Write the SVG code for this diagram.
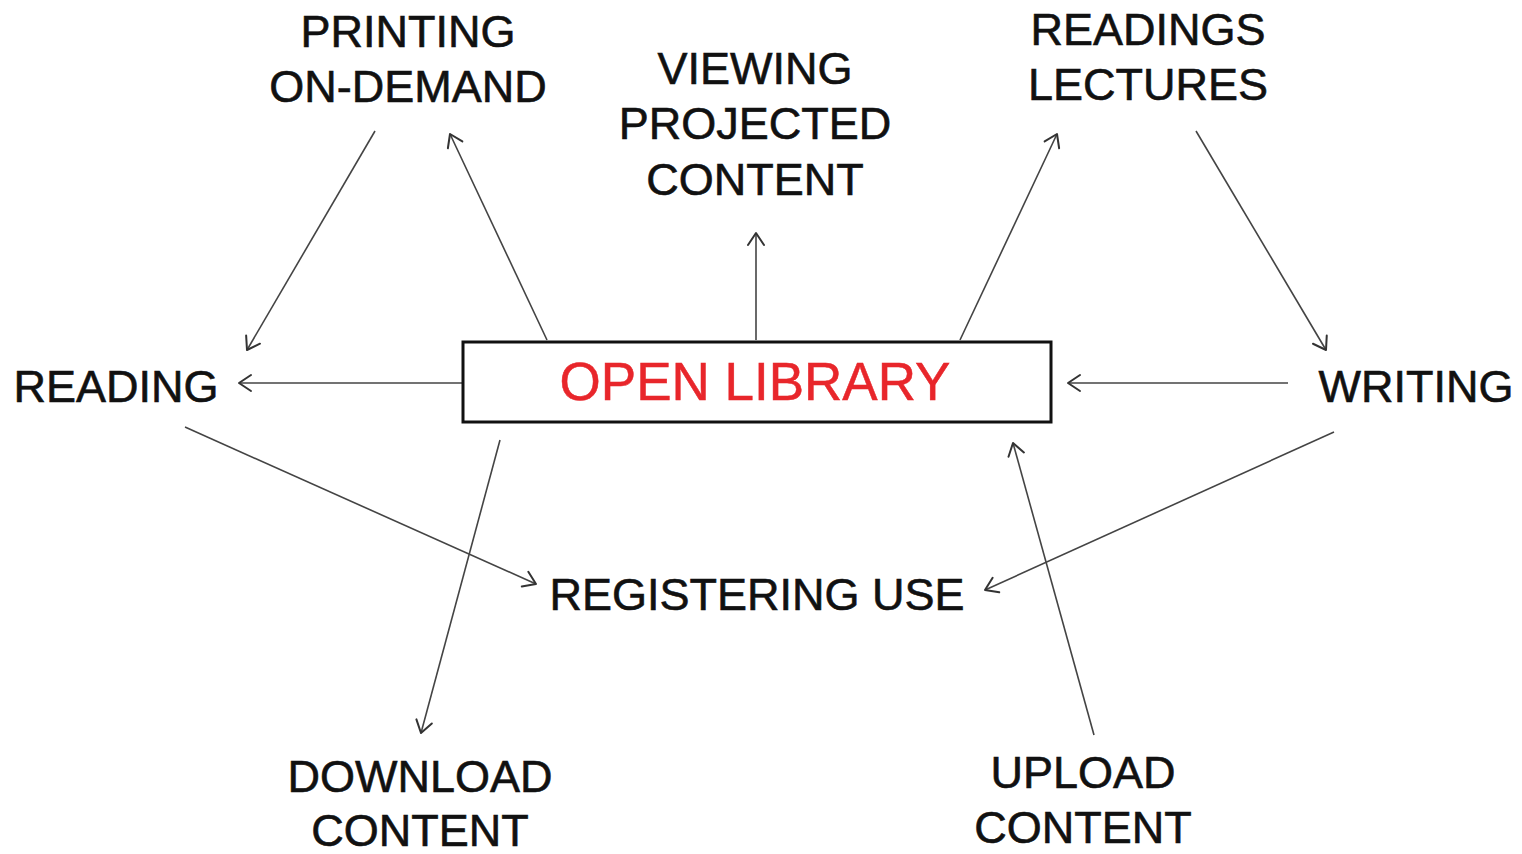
<svg xmlns="http://www.w3.org/2000/svg" width="1522" height="854" viewBox="0 0 1522 854">
<style>
.lbl{font-family:"Liberation Sans",Arial,sans-serif;font-size:45px;fill:#111;stroke:#111;stroke-width:0.6;text-anchor:middle}
.c{fill:none;stroke:#444;stroke-width:1.6;marker-end:url(#ah)}
</style>
<defs>
<marker id="ah" markerUnits="userSpaceOnUse" markerWidth="30" markerHeight="30" refX="15" refY="15" orient="auto">
<path d="M3,7 L15,15 L3,23" fill="none" stroke="#333" stroke-width="2" stroke-linecap="round" stroke-linejoin="round"/>
</marker>
</defs>
<rect width="1522" height="854" fill="#fff"/>
<g id="connectors">
<line class="c" x1="375" y1="131" x2="247" y2="350"/>
<line class="c" x1="547" y1="340" x2="450" y2="134"/>
<line class="c" x1="756" y1="340" x2="756" y2="233"/>
<line class="c" x1="960" y1="340" x2="1057" y2="134"/>
<line class="c" x1="1196" y1="131" x2="1326" y2="350"/>
<line class="c" x1="462" y1="383" x2="239" y2="383"/>
<line class="c" x1="1288" y1="383" x2="1068" y2="383"/>
<line class="c" x1="185" y1="427" x2="536" y2="584"/>
<line class="c" x1="1334" y1="432" x2="985" y2="590"/>
<line class="c" x1="500" y1="440" x2="421" y2="733"/>
<line class="c" x1="1094" y1="735" x2="1013" y2="443"/>
</g>
<g id="open-library">
<rect x="463" y="342" width="588" height="80" fill="#fff" stroke="#111" stroke-width="3"/>
<text x="755" y="400" font-family="'Liberation Sans',Arial,sans-serif" font-size="53" fill="#e8262b" stroke="#e8262b" stroke-width="0.5" text-anchor="middle">OPEN LIBRARY</text>
</g>
<g id="printing"><text class="lbl" x="408" y="47">PRINTING</text><text class="lbl" x="408" y="102">ON-DEMAND</text></g>
<g id="viewing"><text class="lbl" x="755" y="84">VIEWING</text><text class="lbl" x="755" y="139">PROJECTED</text><text class="lbl" x="755" y="195">CONTENT</text></g>
<g id="readings"><text class="lbl" x="1148" y="45">READINGS</text><text class="lbl" x="1148" y="100">LECTURES</text></g>
<g id="reading"><text class="lbl" x="116" y="402">READING</text></g>
<g id="writing"><text class="lbl" x="1416" y="402">WRITING</text></g>
<g id="registering"><text class="lbl" x="757" y="610">REGISTERING USE</text></g>
<g id="download"><text class="lbl" x="420" y="792">DOWNLOAD</text><text class="lbl" x="420" y="846">CONTENT</text></g>
<g id="upload"><text class="lbl" x="1083" y="788">UPLOAD</text><text class="lbl" x="1083" y="843">CONTENT</text></g>
</svg>
